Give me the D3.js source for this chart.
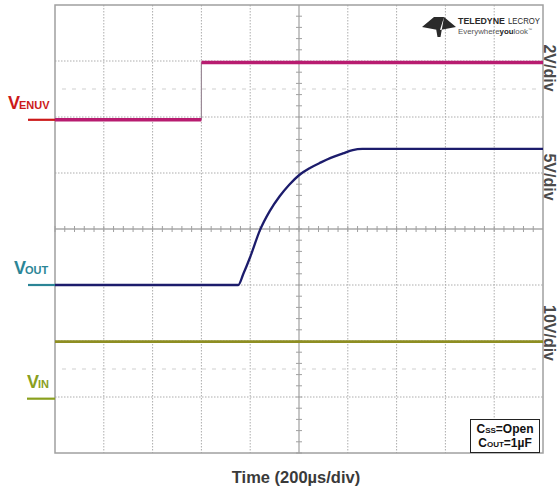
<!DOCTYPE html>
<html>
<head>
<meta charset="utf-8">
<script src="https://cdn.jsdelivr.net/npm/d3@7"></script>
<style>
  body { margin: 0; background: #fff; }
  svg { display: block; font-family: "Liberation Sans", Arial, sans-serif; }
</style>
</head>
<body>
<svg id="chart" width="559" height="491"></svg>
<script>
// time axis: 10 divisions of 200us
const timeDivs = d3.range(0, 11)
const usPerDiv = 200

// EN/UV channel (2V/div), step at 600us
const enuvTime = [0, 600, 600, 2000]
const enuvVolt = [0, 0, 2.05, 2.05]

// VOUT channel (5V/div) soft-start ramp
const voutTime = [0, 751, 772, 800, 840, 880, 920, 960, 1000, 1045, 1090, 1130, 1180, 1220, 1260, 1291, 2000]
const voutVolt = [0, 0, 1.0, 2.5, 4.9, 6.6, 7.9, 8.95, 9.8, 10.45, 10.95, 11.35, 11.75, 12.05, 12.15, 12.15, 12.15]

// VIN channel (10V/div), flat
const vinTime = [0, 2000]
const vinVolt = [10.2, 10.2]

// channel setup: volts per division and ground offset in divisions
const channels = [
  { name: "ENUV", vdiv: 2, offset: 1.95, label: "2V/div", labelY: 68 },
  { name: "OUT", vdiv: 5, offset: -1, label: "5V/div", labelY: 177 },
  { name: "IN", vdiv: 10, offset: -3.03, label: "10V/div", labelY: 333 }
]

const svg = d3.select("#chart")
const plotL = 55, plotR = 543, plotT = 5, plotB = 453

const x = d3.scaleLinear().domain([0, 10 * usPerDiv]).range([plotL, plotR])
const div = d3.scaleLinear().domain([-4, 4]).range([plotB, plotT])

function chY(ch) {
  return v => div(ch.offset + v / ch.vdiv)
}

// grid
const grid = svg.append("g")
timeDivs.slice(1, 10).forEach(d => {
  grid.append("line")
    .attr("x1", x(d * usPerDiv)).attr("x2", x(d * usPerDiv))
    .attr("y1", plotT).attr("y2", plotB)
    .attr("stroke", d == 5 ? "#a8a8a8" : "#adadad")
    .attr("stroke-width", d == 5 ? 1.3 : 1)
    .attr("stroke-dasharray", d == 5 ? null : "1.5,1.5")
})
d3.range(-3, 4).forEach(d => {
  grid.append("line")
    .attr("x1", plotL).attr("x2", plotR)
    .attr("y1", div(d)).attr("y2", div(d))
    .attr("stroke", d == 0 ? "#a8a8a8" : "#adadad")
    .attr("stroke-width", d == 0 ? 1.3 : 1)
    .attr("stroke-dasharray", d == 0 ? null : "1.5,1.5")
})

// half-division marker lines
;[2.5, -2.5].forEach(d => {
  grid.append("line")
    .attr("x1", plotL + 7).attr("x2", plotR - 4)
    .attr("y1", div(d)).attr("y2", div(d))
    .attr("stroke", "#cfcfcf")
    .attr("stroke-dasharray", "4,6")
})

// minor ticks on the centre axes
d3.range(0, 50).forEach(i => {
  const px = x(i * usPerDiv / 5)
  grid.append("line")
    .attr("x1", px).attr("x2", px)
    .attr("y1", div(0) - 3).attr("y2", div(0) + 3)
    .attr("stroke", "#a0a0a0")
})
d3.range(-20, 20).forEach(i => {
  const py = div(i / 5)
  grid.append("line")
    .attr("x1", x(1000) - 3).attr("x2", x(1000) + 3)
    .attr("y1", py).attr("y2", py)
    .attr("stroke", "#a0a0a0")
})

grid.append("rect")
  .attr("x", plotL).attr("y", plotT)
  .attr("width", plotR - plotL).attr("height", plotB - plotT)
  .attr("fill", "none")
  .attr("stroke", "#a0a0a0")
  .attr("stroke-width", 1.5)

// logo
const logo = svg.append("g")
logo.append("path")
  .attr("d", "M422,27 L434,17 L438,30 Z M456,27 L444,17 L440,30 Z M434,17 L444,17 L440.5,37 L437.5,37 Z")
  .attr("fill", "#2a2a2a")
logo.append("text")
  .attr("x", 458).attr("y", 24)
  .attr("font-size", 9.5).attr("font-weight", "bold")
  .attr("fill", "#2a2a2a")
  .attr("textLength", 47)
  .attr("lengthAdjust", "spacingAndGlyphs")
  .text("TELEDYNE")
logo.append("text")
  .attr("x", 508).attr("y", 24)
  .attr("font-size", 9.5)
  .attr("fill", "#2a2a2a")
  .attr("textLength", 32)
  .attr("lengthAdjust", "spacingAndGlyphs")
  .text("LECROY")
logo.append("text")
  .attr("x", 458).attr("y", 34)
  .attr("font-size", 8)
  .attr("fill", "#555")
  .attr("textLength", 74)
  .attr("lengthAdjust", "spacingAndGlyphs")
  .html('Everywhere<tspan font-weight="bold" fill="#222">you</tspan>look<tspan font-size="4" dy="-3">™</tspan>')

// traces
const line = (ch) => d3.line().x(d => x(d[0])).y(d => chY(ch)(d[1]))

const enuv = d3.zip(enuvTime, enuvVolt)
svg.append("path")
  .attr("d", line(channels[0])(enuv.slice(1, 3)))
  .attr("stroke", "#9a8a96").attr("stroke-width", 1.2).attr("fill", "none")
;[enuv.slice(0, 2), enuv.slice(2, 4)].forEach(seg => {
  svg.append("path")
    .attr("d", line(channels[0])(seg))
    .attr("stroke", "#b81c70").attr("stroke-width", 3.5).attr("fill", "none")
})

svg.append("path")
  .attr("d", line(channels[1]).curve(d3.curveMonotoneX)(d3.zip(voutTime, voutVolt)))
  .attr("stroke", "#1c1c6c").attr("stroke-width", 2.3).attr("fill", "none")

svg.append("path")
  .attr("d", line(channels[2])(d3.zip(vinTime, vinVolt)))
  .attr("stroke", "#8e8e22").attr("stroke-width", 2.8).attr("fill", "none")

// left channel labels with ground markers
const labels = [
  { ch: channels[0], main: "V", sub: "ENUV", color: "#cc1a1a", x: 8, x0: 28 },
  { ch: channels[1], main: "V", sub: "OUT", color: "#2b8596", x: 14, x0: 28 },
  { ch: channels[2], main: "V", sub: "IN", color: "#8aa01e", x: 27, x0: 27 }
]
labels.forEach(l => {
  const gy = chY(l.ch)(0)
  svg.append("line")
    .attr("x1", l.x0).attr("x2", plotL)
    .attr("y1", gy).attr("y2", gy)
    .attr("stroke", l.color).attr("stroke-width", 2.2)
  svg.append("text")
    .attr("x", l.x).attr("y", gy - 11)
    .attr("fill", l.color)
    .attr("font-weight", "bold")
    .attr("font-size", 18)
    .attr("letter-spacing", -1)
    .html(`${l.main}<tspan font-size="11" letter-spacing="0">${l.sub}</tspan>`)
})

// right V/div labels
channels.forEach(ch => {
  svg.append("text")
    .attr("transform", `translate(544,${ch.labelY}) rotate(90)`)
    .attr("text-anchor", "middle")
    .attr("font-size", 16)
    .attr("font-weight", "bold")
    .attr("fill", "#4a4a4a")
    .text(ch.label)
})

// x axis title
svg.append("text")
  .attr("x", 296).attr("y", 483)
  .attr("text-anchor", "middle")
  .attr("font-size", 16.5)
  .attr("font-weight", "bold")
  .attr("fill", "#3a3a3a")
  .text("Time (200µs/div)")

// condition box
const box = svg.append("g")
box.append("rect")
  .attr("x", 470.5).attr("y", 419.5).attr("width", 69).attr("height", 33)
  .attr("fill", "#fff").attr("stroke", "#222")
box.append("text")
  .attr("x", 505).attr("y", 433)
  .attr("text-anchor", "middle").attr("font-size", 12).attr("font-weight", "bold").attr("fill", "#111")
  .html('C<tspan font-size="8">SS</tspan>=Open')
box.append("text")
  .attr("x", 505).attr("y", 447)
  .attr("text-anchor", "middle").attr("font-size", 12).attr("font-weight", "bold").attr("fill", "#111")
  .html('C<tspan font-size="8">OUT</tspan>=1µF')
</script>
</body>
</html>
